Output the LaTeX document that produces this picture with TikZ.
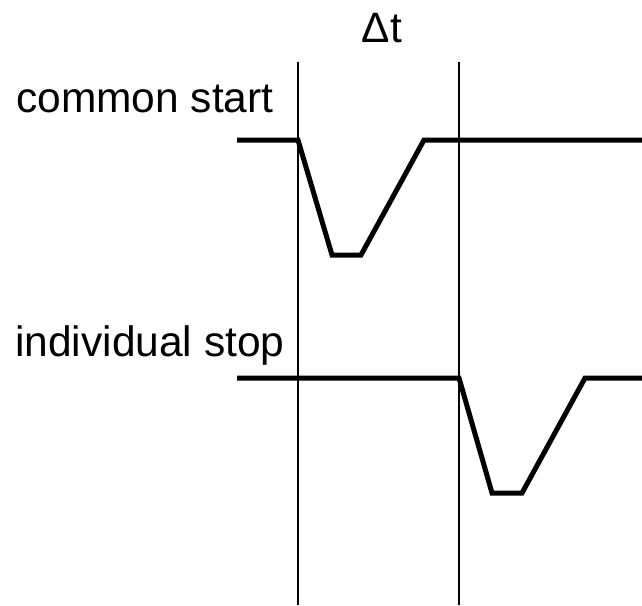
\documentclass[tikz,border=0pt]{standalone}
\usepackage{fontspec}
\setmainfont{Liberation Sans}
\begin{document}
\begin{tikzpicture}[x=1pt,y=-1pt,
  sig/.style={line width=5pt,line join=miter},
  marker/.style={line width=1.8pt},
  lbl/.style={inner sep=0pt,font=\fontsize{42.5}{50}\selectfont}]
\useasboundingbox (0,0) rectangle (642,605);
% labels
\node[lbl,anchor=base west] (cs) at (16,112) {common start};
\node[lbl,anchor=base west] (is) at (15,356) {individual stop};
\node[lbl,anchor=base] (dt) at (382,42) {Δt};
% time markers
\coordinate (m1t) at (298,62); \coordinate (m1b) at (298,605);
\coordinate (m2t) at (459,62); \coordinate (m2b) at (459,605);
\draw[marker] (m1t) -- (m1b);
\draw[marker] (m2t) -- (m2b);
% common start signal
\coordinate (a0) at (237,140); \coordinate (a1) at (298,140);
\coordinate (a2) at (332,255); \coordinate (a3) at (361,255);
\coordinate (a4) at (424,140); \coordinate (a5) at (642,140);
\draw[sig] (a0) -- (a1) -- (a2) -- (a3) -- (a4) -- (a5);
% individual stop signal
\coordinate (b0) at (237,378); \coordinate (b1) at (459,378);
\coordinate (b2) at (492,493); \coordinate (b3) at (522,493);
\coordinate (b4) at (585,378); \coordinate (b5) at (642,378);
\draw[sig] (b0) -- (b1) -- (b2) -- (b3) -- (b4) -- (b5);
\end{tikzpicture}
\end{document}
